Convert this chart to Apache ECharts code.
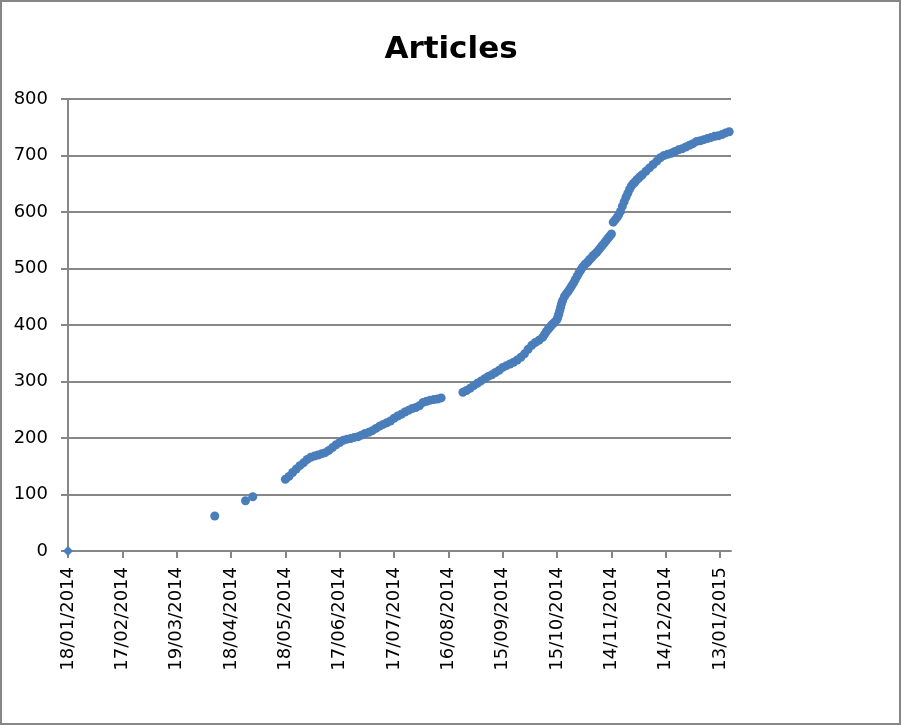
<!DOCTYPE html>
<html>
<head>
<meta charset="utf-8">
<script src="https://cdn.jsdelivr.net/npm/echarts@6/dist/echarts.min.js"></script>
<style>
html,body{margin:0;padding:0;background:#fff;}
#chart{width:902px;height:726px;}
</style>
</head>
<body>
<div id="chart"></div>
<script>
// Start date of the x axis (day 0)
var startDate = [2014, 0, 18];
// Day offsets from start date
var days = [0, 81, 98, 102,
  120,122,124,126,128,130,132,134,136,138,140,142,144,146,148,150,152,154,156,158,160,162,164,166,168,170,172,174,176,178,180,182,184,186,188,190,192,194,
  196,198,200,202,204,206,
  218,220,222,224,226,228,230,232,234,236,238,240,242,244,246,248,250,252,254,256,258,260,
  262,263,264,265,266,267,268,269,270,270.5,271,271.5,272,272.5,273,274,275,276,277,278,279,280,281,282,283,284,285,286,287,288,289,290,291,292,293,294,295,296,297,298,299,300,
  301,302,303,304,305,306,307,308,309,310,311,312,313,314,315,316,317,
  319,321,323,325,327,329,331,333,335,337,339,341,343,345,347,349,351,353,355,357,359,361,363,365];
// Cumulative article counts
var articles = [0, 62, 89, 96,
  127,132,139,145,151,156,162,166,168,170,172,174,178,183,188,192,196,198,199,201,202,205,208,210,213,217,221,224,227,230,235,239,242,246,249,252,254,257,
  263,265,267,268,269,271,
  281,284,288,293,297,301,305,309,312,316,320,325,328,331,334,338,343,349,357,364,369,373,
  378,383,388,392,396,400,403,406,410,415,420,426,432,438,443,450,455,459,464,469,474,480,486,492,497,502,506,509,512,516,519,523,526,529,533,537,541,545,549,553,557,561,
  582,586,590,595,601,610,618,626,633,640,646,650,653,657,660,663,666,
  672,678,684,690,696,700,702,704,707,710,712,715,718,721,725,726,728,730,732,734,735,737,740,742];
// Tick positions (days) and axis ranges
var xTicks = [0,30,60,90,120,150,180,210,240,270,300,330,360];
var xMax = 366;
var yMin = 0, yMax = 800, yStep = 100;

function fmtDay(d) {
  var t = new Date(Date.UTC(startDate[0], startDate[1], startDate[2]) + d * 86400000);
  var dd = ('0' + t.getUTCDate()).slice(-2);
  var mm = ('0' + (t.getUTCMonth() + 1)).slice(-2);
  return dd + '/' + mm + '/' + t.getUTCFullYear();
}

var pts = days.map(function (d, i) {
  var item = { value: [d, articles[i]] };
  if (i === 0) { item.symbol = 'diamond'; item.symbolSize = 10; }
  return item;
});

var gray = '#878787';
var chart = echarts.init(document.getElementById('chart'), null, { renderer: 'canvas' });
chart.setOption({
  backgroundColor: '#ffffff',
  animation: false,
  title: {
    text: 'Articles',
    left: 'center',
    top: 29,
    textStyle: { fontFamily: 'DejaVu Sans', fontWeight: 'bold', fontSize: 31, color: '#000' }
  },
  graphic: [{
    type: 'rect',
    shape: { x: 1, y: 1, width: 899, height: 723 },
    style: { fill: 'none', stroke: gray, lineWidth: 2 },
    silent: true
  }],
  grid: { left: 68, right: 171, top: 99, bottom: 175, containLabel: false },
  xAxis: {
    type: 'value',
    min: 0,
    max: xMax,
    interval: 30,
    axisLine: { show: true, onZero: false, lineStyle: { color: gray, width: 2 } },
    axisTick: { show: true, length: 7, customValues: xTicks, lineStyle: { color: gray, width: 2 } },
    splitLine: { show: false },
    axisLabel: {
      customValues: xTicks,
      rotate: 90,
      margin: 16,
      fontFamily: 'DejaVu Sans',
      fontSize: 18,
      color: '#000',
      formatter: function (v) { return fmtDay(v); }
    }
  },
  yAxis: {
    type: 'value',
    min: yMin,
    max: yMax,
    interval: yStep,
    axisLine: { show: true, lineStyle: { color: gray, width: 2 } },
    axisTick: { show: true, length: 7, lineStyle: { color: gray, width: 2 } },
    splitLine: { show: true, lineStyle: { color: gray, width: 2 } },
    axisLabel: { margin: 20, fontFamily: 'DejaVu Sans', fontSize: 18, color: '#000' }
  },
  series: [{
    type: 'scatter',
    data: pts,
    symbol: 'circle',
    symbolSize: 9,
    itemStyle: { color: '#4a7ebb', opacity: 1 },
    clip: false
  }]
});
</script>
</body>
</html>
